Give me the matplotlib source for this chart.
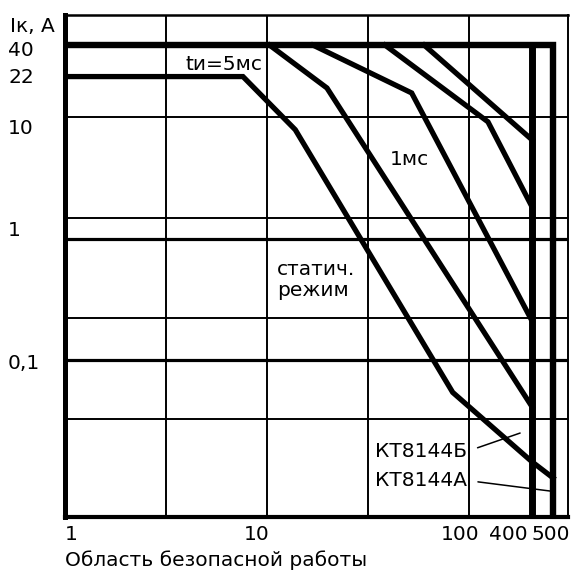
import numpy as np
import matplotlib
matplotlib.use("Agg")
import matplotlib.pyplot as plt
from matplotlib.transforms import ScaledTranslation
from matplotlib.ticker import NullLocator

# ---------------- data ----------------
i_max = 40.0          # A, upper current limit
u_max_a = 500.0       # V, КТ8144А
u_max_b = 400.0       # V, КТ8144Б

# static (DC) mode
static_u = [1, 7.6, 13.8, 83, 400, 500]
static_i = [22, 22, 8.0, 0.054, 0.0144, 0.0106]

# pulse modes
pulse_5ms_u = [10.3, 19.8, 400]
pulse_5ms_i = [40, 17.7, 0.041]
pulse_1ms_u = [16.9, 52, 400]
pulse_1ms_i = [40, 16.1, 0.21]
pulse_short_u = [38.4, 190, 400]
pulse_short_i = [40, 9.3, 1.84]
pulse_shortest_u = [60, 400]
pulse_shortest_i = [40, 6.6]

x_ticks = [1, 10, 100, 400, 500]
x_tick_labels = ["1", "10", "100", "400", "500"]
y_ticks = [40, 22, 10, 1, 0.1]
y_tick_labels = ["40", "22", "10", "1", "0,1"]

# ---------------- figure ----------------
plt.rcParams['font.family'] = ['DejaVu Sans']
FS = 14.5
W, H, DPI = 572, 575, 100
fig = plt.figure(figsize=(W / DPI, H / DPI), dpi=DPI)
L, R, T, B = 65, 568, 15, 517
ax = fig.add_axes([L / W, (H - B) / H, (R - L) / W, (B - T) / H])

K = 0.00104


def fwd(x):
    x = np.asarray(x, dtype=float)
    return np.where(x <= 100, np.log10(np.clip(x, 1e-9, None)), 2 + (x - 100) * K)


def inv(u):
    u = np.asarray(u, dtype=float)
    return np.where(u <= 2, 10 ** np.clip(u, -9, 2), 100 + (u - 2) / K)


ax.set_xscale('function', functions=(fwd, inv))
ax.set_yscale('log')
ax.set_xlim(1, 571)
ax.set_ylim(0.00504, 71)
ax.yaxis.set_minor_locator(NullLocator())
ax.xaxis.set_minor_locator(NullLocator())

# grid (drawing-paper style)
for gx in 10 ** np.arange(0.5, 2.01, 0.5):
    ax.axvline(gx, color='black', lw=1.4, zorder=1)
for gy in (0.195, 0.396, 0.596, 0.797):
    ax.plot([0, 1], [gy, gy], transform=ax.transAxes, color='black', lw=1.4, zorder=1)
for yv in (1, 0.1):
    ax.axhline(yv, color='black', lw=2.3, zorder=1)

# curves
ymin = ax.get_ylim()[0]
cw = 3.8
ax.plot([1, u_max_a, u_max_a], [i_max, i_max, ymin], color='black', lw=4.6,
        solid_joinstyle='miter', solid_capstyle='butt', zorder=3)
ax.plot([u_max_b, u_max_b], [i_max, ymin], color='black', lw=5.0,
        solid_capstyle='butt', zorder=3)
ax.plot(static_u, static_i, color='black', lw=cw, solid_joinstyle='miter', zorder=3)
for u, i in [(pulse_5ms_u, pulse_5ms_i), (pulse_1ms_u, pulse_1ms_i),
             (pulse_short_u, pulse_short_i), (pulse_shortest_u, pulse_shortest_i)]:
    ax.plot(u, i, color='black', lw=cw, solid_joinstyle='miter', zorder=3)

# spines
ax.spines['left'].set_linewidth(3.6)
ax.spines['bottom'].set_linewidth(3.0)
ax.spines['top'].set_linewidth(1.8)
ax.spines['right'].set_linewidth(1.4)
for s in ax.spines.values():
    s.set_zorder(4)

# ticks
ax.set_xticks(x_ticks, x_tick_labels)
ax.set_yticks(y_ticks, y_tick_labels)
ax.tick_params(axis='both', length=0, labelsize=FS)
ax.tick_params(axis='x', pad=6)
ax.tick_params(axis='y', pad=(L - 8) * 72 / DPI)
x_off = [6, -10.5, -9, -24, -2]
for lab, dx in zip(ax.get_xticklabels(), x_off):
    lab.set_transform(lab.get_transform() + ScaledTranslation(dx / DPI, 0, fig.dpi_scale_trans))
y_off = [-3.5, 1, -8, 10, -2]
for lab, dy in zip(ax.get_yticklabels(), y_off):
    lab.set_horizontalalignment('left')
    lab.set_transform(lab.get_transform() + ScaledTranslation(0, dy / DPI, fig.dpi_scale_trans))

# texts
ax.text(3.93, 24.9, "tи=5мс", fontsize=FS, ha='left', va='baseline', zorder=5)
ax.text(40.6, 4.09, "1мс", fontsize=FS, ha='left', va='baseline', zorder=5)
ax.text(11.2, 0.504, "статич.", fontsize=FS, ha='left', va='baseline', zorder=5)
ax.text(11.2, 0.338, "режим", fontsize=FS, ha='left', va='baseline', zorder=5)
ax.annotate("КТ8144Б", xy=(343, 0.0249), xytext=(34.2, 0.0158), fontsize=FS,
            ha='left', va='baseline', zorder=5,
            arrowprops=dict(arrowstyle='-', color='black', lw=1.1, relpos=(1, 0.5),
                            shrinkA=6, shrinkB=0))
ax.annotate("КТ8144А", xy=(486, 0.00826), xytext=(34.2, 0.0091), fontsize=FS,
            ha='left', va='baseline', zorder=5,
            arrowprops=dict(arrowstyle='-', color='black', lw=1.1, relpos=(1, 0.5),
                            shrinkA=6, shrinkB=0))

fig.text(10 / W, 1 - 32 / H, "Iк, А", fontsize=FS, ha='left', va='baseline')
fig.text(65 / W, 1 - 566 / H, "Область безопасной работы", fontsize=FS,
         ha='left', va='baseline')

fig.savefig("out.png", dpi=DPI)
